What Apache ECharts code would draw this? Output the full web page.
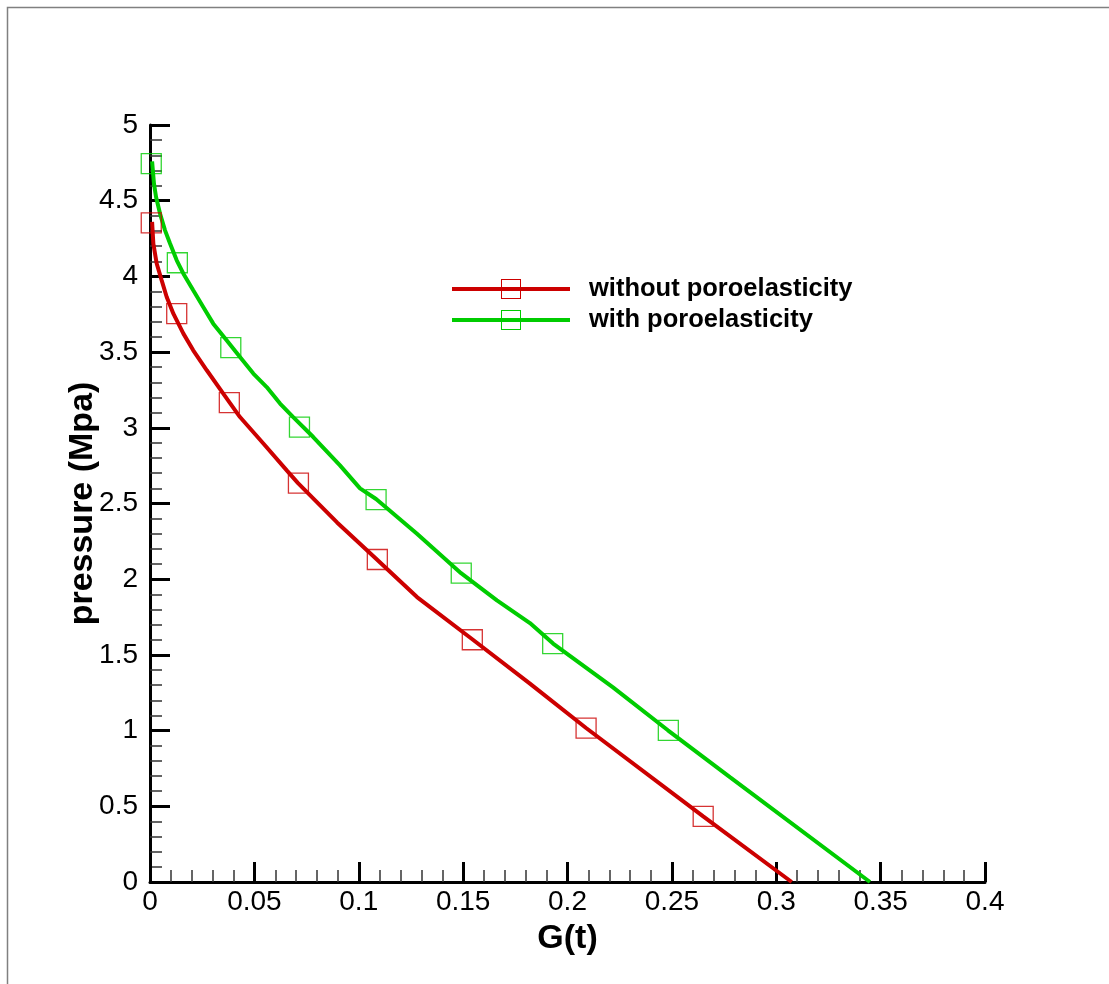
<!DOCTYPE html>
<html>
<head>
<meta charset="utf-8">
<script src="https://cdn.jsdelivr.net/npm/echarts@6/dist/echarts.min.js"></script>
<style>
html,body{margin:0;padding:0;background:#fff;}
#chart{width:1109px;height:984px;}
</style>
</head>
<body>
<div id="chart"></div>
<script>
// ---- data ----
const seriesNames = ['without poroelasticity', 'with poroelasticity'];
const xTicks = [0, 0.05, 0.1, 0.15, 0.2, 0.25, 0.3, 0.35, 0.4];
const yTicks = [0, 0.5, 1, 1.5, 2, 2.5, 3, 3.5, 4, 4.5, 5];

const withoutLine = [
  [0.0010,4.36],[0.0016,4.217],[0.0032,4.085],[0.0056,3.974],[0.0080,3.864],
  [0.0112,3.754],[0.0160,3.622],[0.0207,3.512],[0.0272,3.380],[0.0351,3.226],
  [0.0431,3.071],[0.0543,2.896],[0.0655,2.719],[0.0709,2.635],[0.0896,2.375],
  [0.1087,2.13],[0.1279,1.882],[0.1547,1.60],[0.1820,1.31],[0.2089,1.017],
  [0.2650,0.434],[0.3074,0.0]
];
const withLine = [
  [0.0010,4.76],[0.0019,4.613],[0.0029,4.524],[0.0048,4.415],[0.0072,4.304],
  [0.0096,4.217],[0.0128,4.106],[0.0160,4.018],[0.0207,3.908],[0.0255,3.798],
  [0.0303,3.688],[0.0367,3.578],[0.0431,3.468],[0.0495,3.358],[0.0559,3.269],
  [0.0623,3.160],[0.0686,3.071],[0.0782,2.939],[0.0910,2.752],[0.1006,2.60],
  [0.1083,2.53],[0.1279,2.30],[0.1490,2.04],[0.1662,1.86],[0.1820,1.71],
  [0.1931,1.575],[0.2218,1.285],[0.2481,1.002],[0.2778,0.693],[0.3449,0.0]
];
const withoutMarkers = [
  [0.0006,4.353],[0.0128,3.754],[0.0380,3.166],[0.0711,2.635],
  [0.1089,2.13],[0.1544,1.60],[0.2089,1.017],[0.2650,0.434]
];
const withMarkers = [
  [0.0006,4.745],[0.0131,4.09],[0.0387,3.53],[0.0716,3.005],
  [0.1083,2.526],[0.1491,2.04],[0.1929,1.575],[0.2483,1.002]
];

// ---- chart ----
const RED = '#cc0000', GREEN = '#00cc00';
const FONT = '"Liberation Sans", Arial, sans-serif';
const legendIcon = 'path://M0,8 L118,8 L118,12 L0,12 Z M49,0 L69,0 L69,20 L49,20 Z M50,1 L50,19 L68,19 L68,1 Z';

const axisCommon = {
  axisLine: {show: true, onZero: false, lineStyle: {color: '#000', width: 3}},
  axisTick: {show: true, inside: true, length: 20, lineStyle: {color: '#000', width: 3}},
  minorTick: {show: true, splitNumber: 5, length: 12, lineStyle: {color: '#333', width: 1.5}},
  splitLine: {show: false},
  minorSplitLine: {show: false},
  axisLabel: {color: '#000', fontSize: 28, fontFamily: FONT},
  nameMoveOverlap: false,
  nameTextStyle: {color: '#000', fontSize: 34, fontWeight: 'bold', fontFamily: FONT}
};

const chart = echarts.init(document.getElementById('chart'), null, {renderer: 'canvas'});
chart.setOption({
  animation: false,
  backgroundColor: '#fff',
  graphic: [{
    type: 'rect', left: 5, top: 5, silent: true,
    shape: {width: 1200, height: 1200},
    style: {fill: 'none', stroke: '#808080', lineWidth: 1.5}
  }],
  grid: {left: 150, right: 124, top: 125, bottom: 102, containLabel: false},
  legend: {
    orient: 'vertical', left: 452, top: 276, padding: 0,
    itemWidth: 118, itemHeight: 20, itemGap: 5,
    data: seriesNames.map(n => ({name: n, icon: legendIcon})),
    textStyle: {color: '#000', fontSize: 25.5, fontWeight: 'bold', fontFamily: FONT, lineHeight: 20, padding: [0,0,0,14]}
  },
  xAxis: Object.assign({}, axisCommon, {
    type: 'value', min: xTicks[0], max: xTicks[xTicks.length-1], interval: 0.05,
    name: 'G(t)', nameLocation: 'middle', nameGap: 40,
    axisLabel: Object.assign({}, axisCommon.axisLabel, {margin: 6})
  }),
  yAxis: Object.assign({}, axisCommon, {
    type: 'value', min: yTicks[0], max: yTicks[yTicks.length-1], interval: 0.5,
    name: 'pressure (Mpa)', nameLocation: 'middle', nameGap: 50,
    axisLabel: Object.assign({}, axisCommon.axisLabel, {margin: 12})
  }),
  series: [
    {name: seriesNames[0], type: 'line', data: withoutLine, showSymbol: false, symbol: 'none',
     lineStyle: {color: RED, width: 4}, itemStyle: {color: RED}, z: 3},
    {name: seriesNames[1], type: 'line', data: withLine, showSymbol: false, symbol: 'none',
     lineStyle: {color: GREEN, width: 4}, itemStyle: {color: GREEN}, z: 3},
    {name: 'm0', type: 'scatter', data: withoutMarkers, symbol: 'rect', symbolSize: 20,
     itemStyle: {color: 'rgba(0,0,0,0)', borderColor: RED, borderWidth: 1.3}, z: 4},
    {name: 'm1', type: 'scatter', data: withMarkers, symbol: 'rect', symbolSize: 20,
     itemStyle: {color: 'rgba(0,0,0,0)', borderColor: GREEN, borderWidth: 1.3}, z: 4}
  ]
});
</script>
</body>
</html>
